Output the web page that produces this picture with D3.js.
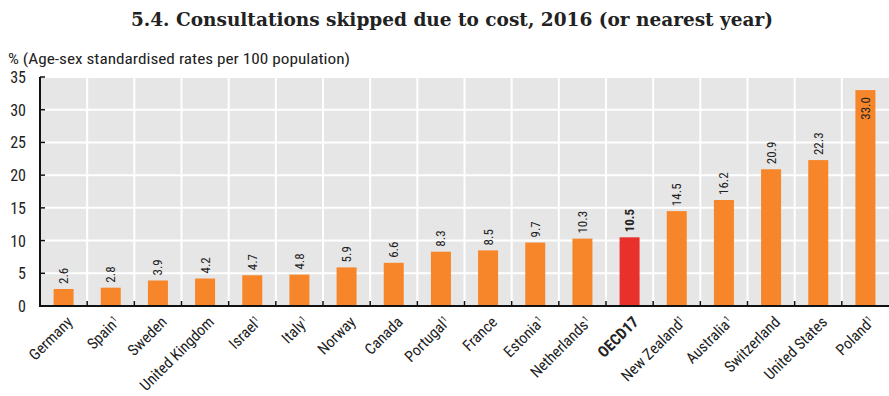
<!DOCTYPE html>
<html><head><meta charset="utf-8">
<script src="https://cdn.jsdelivr.net/npm/d3@7"></script>
<style>body{margin:0;background:#fff}svg{display:block}</style>
</head><body>
<svg id="c" width="889" height="396"></svg>
<script>
const categories = ["Germany","Spain","Sweden","United Kingdom","Israel","Italy","Norway","Canada","Portugal","France","Estonia","Netherlands","OECD17","New Zealand","Australia","Switzerland","United States","Poland"];
const footnoted = ["Spain","Israel","Italy","Portugal","Estonia","Netherlands","New Zealand","Australia","Poland"];
const values = [2.6,2.8,3.9,4.2,4.7,4.8,5.9,6.6,8.3,8.5,9.7,10.3,10.5,14.5,16.2,20.9,22.3,33.0];
const yTicks = [0,5,10,15,20,25,30,35];
const highlight = "OECD17";
const title = "5.4. Consultations skipped due to cost, 2016 (or nearest year)";
const subtitle = "% (Age-sex standardised rates per 100 population)";

const svg = d3.select("#c");
const narrow = "'Liberation Sans Narrow','Arial Narrow','Roboto Condensed',sans-serif";
const L = 40, R = 889, T = 77, B = 306;
const x = d3.scaleBand().domain(categories).range([L, R]).paddingInner(0).paddingOuter(0);
const y = d3.scaleLinear().domain([0,35]).range([B, T]);

svg.append("text").attr("x", 452).attr("y", 26).attr("text-anchor","middle")
  .style("font-family","'DejaVu Serif',serif").style("font-weight","bold").style("font-size","18.5px")
  .attr("fill","#222").text(title);
svg.append("text").attr("x", 8).attr("y", 64)
  .attr("textLength", 342).attr("lengthAdjust","spacingAndGlyphs")
  .style("font-family",narrow).style("font-size","14px").attr("fill","#222").text(subtitle);

// background
svg.append("rect").attr("x", L).attr("y", T).attr("width", R-L).attr("height", B-T).attr("fill","#e6e6e6");
// horizontal grid
svg.append("g").selectAll("line").data(yTicks.filter(d=>d>0)).join("line")
  .attr("x1", L).attr("x2", R).attr("y1", d=>y(d)).attr("y2", d=>y(d))
  .attr("stroke","#fff").attr("stroke-width",2);
// vertical grid at band boundaries
svg.append("g").selectAll("line").data(categories.slice(1)).join("line")
  .attr("x1", d=>x(d)).attr("x2", d=>x(d)).attr("y1", T).attr("y2", B)
  .attr("stroke","#fff").attr("stroke-width",2);

const bw = 20;
svg.append("g").selectAll("rect").data(categories).join("rect")
  .attr("x", d=>x(d)+x.bandwidth()/2-bw/2).attr("width", bw)
  .attr("y", (d,i)=>y(values[i])).attr("height",(d,i)=>B-y(values[i]))
  .attr("fill", d=>d===highlight?"#e8312b":"#f7862a");

// value labels
svg.append("g").selectAll("text").data(categories).join("text")
  .attr("transform",(d,i)=>{
    const cx = x(d)+x.bandwidth()/2;
    const inside = values[i] > 30;
    const yy = inside ? y(values[i])+7 : y(values[i])-5;
    return `translate(${cx+4.5},${yy}) rotate(-90)`;
  })
  .attr("text-anchor",(d,i)=>values[i]>30?"end":"start")
  .style("font-family",narrow).style("font-size","13px")
  .style("font-weight",d=>d===highlight?"bold":"normal")
  .attr("fill","#222").text((d,i)=>values[i].toFixed(1));

// axes
const ax = svg.append("g").attr("stroke","#111");
ax.append("line").attr("x1",L).attr("x2",L).attr("y1",T).attr("y2",B+1).attr("stroke-width",2);
ax.append("line").attr("x1",L-1).attr("x2",R).attr("y1",B).attr("y2",B).attr("stroke-width",2);
ax.selectAll(".yt").data(yTicks).join("line").attr("class","yt")
  .attr("x1",L).attr("x2",L+5).attr("y1",d=>y(d)).attr("y2",d=>y(d)).attr("stroke-width",1.5);
ax.selectAll(".xt").data(categories.slice(1)).join("line").attr("class","xt")
  .attr("x1",d=>x(d)).attr("x2",d=>x(d)).attr("y1",B).attr("y2",B-5).attr("stroke-width",1.5);

svg.append("g").selectAll("text").data(yTicks).join("text")
  .attr("x", 26).attr("y", d=>y(d)+6).attr("text-anchor","end")
  .style("font-family",narrow).style("font-size","16px").attr("fill","#222").text(d=>d);

// x labels
const xl = svg.append("g").selectAll("text").data(categories).join("text")
  .attr("transform", d=>`translate(${x(d)+x.bandwidth()/2+10},${B+17}) rotate(-45)`)
  .attr("text-anchor","end")
  .style("font-family",narrow).style("font-size","15.5px")
  .style("font-weight",d=>d===highlight?"bold":"normal")
  .attr("fill","#222");
xl.append("tspan").text(d=>d);
xl.filter(d=>footnoted.includes(d)).append("tspan").attr("baseline-shift","super").style("font-size","9px").text("1");
</script>
</body></html>
